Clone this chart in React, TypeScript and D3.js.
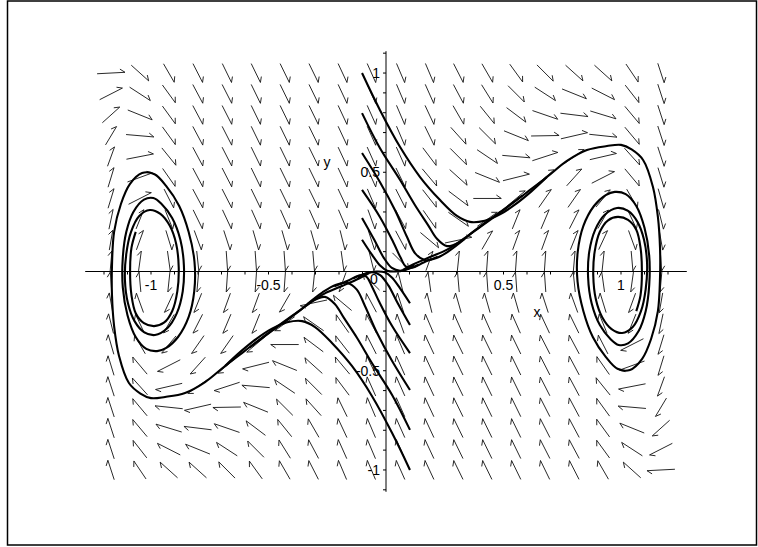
import React from 'react';
import * as d3 from 'd3';

const W = 758;
const H = 547;

// direction field grid (data coords)
const gridX = [-1.17, -1.047, -0.924, -0.801, -0.677, -0.554, -0.431, -0.308, -0.185, -0.062,
  0.062, 0.185, 0.308, 0.431, 0.554, 0.677, 0.801, 0.924, 1.047, 1.17];
const gridY = [1.0, 0.895, 0.789, 0.684, 0.579, 0.474, 0.368, 0.263, 0.158, 0.053,
  -0.053, -0.158, -0.263, -0.368, -0.474, -0.579, -0.684, -0.789, -0.895, -1.0];

// arrow directions in degrees (row = gridY, col = gridX)
const arrowAngles = [
  [3, -42, -60, -63, -64, -64, -64, -64, -65, -66, -67, -67, -63, -60, -54, -45, -42, -42, -56, -72],
  [27, -33, -54, -62, -63, -64, -64, -64, -65, -66, -67, -66, -62, -58, -45, -33, -22, -27, -52, -72],
  [42, -22, -54, -62, -63, -64, -64, -64, -65, -66, -67, -65, -60, -51, -37, -19, -7, -17, -50, -72],
  [59, -5, -54, -62, -63, -64, -64, -64, -65, -66, -67, -64, -48, -45, -22, 1, 13, -6, -50, -72],
  [70, 11, -51, -62, -63, -64, -64, -64, -65, -66, -66, -53, -45, -34, -5, 18, 35, 13, -48, -72],
  [73, 20, -55, -62, -63, -64, -64, -64, -65, -66, -64, -50, -42, -22, 14, 40, 48, 27, -50, -73],
  [73, 27, -63, -62, -63, -64, -64, -64, -65, -67, -63, -52, -37, 0, 40, 55, 55, 50, -60, -74],
  [78, 68, -68, -64, -65, -66, -66, -66, -67, -70, -62, -55, -35, 35, 68, 67, 63, 60, -65, -76],
  [80, 70, -73, -70, -72, -74, -74, -74, -76, -72, -62, -40, 12, 60, 70, 70, 68, 65, -70, -80],
  [85, 82, -82, -84, -86, -86, -86, -85, -82, -76, -45, 70, 84, 86, 86, 86, 85, 84, -85, -86],
  [94, 95, -96, -95, -94, -94, -94, -96, -110, 135, 104, 98, 95, 94, 94, 94, 96, 98, -98, -95],
  [100, 110, -115, -112, -110, -110, -120, -168, 140, 118, 108, 104, 106, 106, 106, 108, 110, 107, -110, -100],
  [104, 115, -120, -117, -113, -112, -145, 145, 125, 118, 110, 113, 114, 114, 114, 115, 116, 112, -112, -102],
  [106, 120, -130, -125, -125, -140, 180, 143, 128, 117, 113, 115, 116, 116, 116, 117, 118, 117, -153, -107],
  [107, 130, -153, -132, -140, -166, 158, 138, 130, 116, 114, 115, 116, 116, 116, 117, 118, 125, -160, -107],
  [108, 132, -167, -145, -162, 175, 146, 135, 127, 114, 114, 115, 116, 116, 116, 117, 118, 129, -169, -110],
  [108, 130, 174, -167, -179, 158, 135, 132, 116, 113, 114, 115, 116, 116, 116, 117, 118, 126, 175, -121],
  [108, 130, 163, 173, 161, 143, 129, 120, 115, 113, 114, 115, 116, 116, 116, 117, 118, 126, 158, -138],
  [108, 128, 153, 158, 147, 135, 122, 118, 114, 113, 114, 115, 116, 116, 116, 117, 118, 126, 147, -153],
  [108, 124, 138, 138, 135, 126, 120, 117, 113, 113, 114, 115, 116, 116, 116, 116, 117, 120, 138, -177],
];

// trajectories entering from the top (left of the y axis)
const trajTop = [
  [[-0.102, 1.0], [-0.026, 0.814], [0.06, 0.627], [0.145, 0.476], [0.23, 0.36], [0.302, 0.28], [0.357, 0.25], [0.42, 0.256], [0.485, 0.288], [0.55, 0.338], [0.62, 0.405], [0.685, 0.476]],
  [[-0.102, 0.798], [-0.026, 0.622], [0.06, 0.461], [0.123, 0.335], [0.179, 0.234], [0.217, 0.165], [0.26, 0.128], [0.315, 0.15], [0.37, 0.2], [0.43, 0.253], [0.5, 0.312], [0.58, 0.383]],
  [[-0.102, 0.597], [-0.026, 0.451], [0.038, 0.31], [0.089, 0.175], [0.125, 0.09], [0.165, 0.058], [0.215, 0.068], [0.27, 0.105], [0.336, 0.165]],
  [[-0.102, 0.411], [-0.026, 0.275], [0.03, 0.15], [0.062, 0.07], [0.085, 0.025], [0.115, 0.02], [0.16, 0.045], [0.22, 0.075]],
  [[-0.102, 0.27], [-0.05, 0.16], [-0.01, 0.07], [0.025, 0.018], [0.06, 0.004], [0.1, 0.015], [0.14, 0.035]],
  [[-0.102, 0.16], [-0.06, 0.085], [-0.025, 0.03], [0.005, 0.004], [0.04, 0.0], [0.08, 0.008], [0.12, 0.03]],
];

// trajectories entering from the bottom (right of the y axis)
const trajBottom = [
  [[0.102, -1.0], [0.026, -0.814], [-0.06, -0.627], [-0.145, -0.476], [-0.23, -0.36], [-0.302, -0.28], [-0.357, -0.25], [-0.42, -0.256], [-0.485, -0.288], [-0.55, -0.338], [-0.62, -0.405], [-0.685, -0.476]],
  [[0.102, -0.798], [0.026, -0.622], [-0.06, -0.461], [-0.123, -0.335], [-0.179, -0.234], [-0.217, -0.165], [-0.26, -0.128], [-0.315, -0.15], [-0.37, -0.2], [-0.43, -0.253], [-0.5, -0.312], [-0.58, -0.383]],
  [[0.102, -0.597], [0.026, -0.451], [-0.038, -0.31], [-0.089, -0.175], [-0.125, -0.09], [-0.165, -0.058], [-0.215, -0.068], [-0.27, -0.105], [-0.336, -0.165]],
  [[0.102, -0.411], [0.026, -0.275], [-0.03, -0.15], [-0.062, -0.07], [-0.085, -0.025], [-0.115, -0.02], [-0.16, -0.045], [-0.22, -0.075]],
  [[0.102, -0.27], [0.05, -0.16], [0.01, -0.07], [-0.025, -0.018], [-0.06, -0.004], [-0.1, -0.015], [-0.14, -0.035]],
  [[0.102, -0.16], [0.06, -0.085], [0.025, -0.03], [-0.005, -0.004], [-0.04, 0.0], [-0.08, -0.008], [-0.12, -0.03]],
];

// the S branch leaving the saddle and winding round the right centre
const spiralRight = [
  [0.072, 0.008], [0.115, 0.035], [0.187, 0.073], [0.26, 0.11], [0.336, 0.169], [0.4, 0.224], [0.472, 0.285],
  [0.54, 0.345], [0.613, 0.411], [0.685, 0.476], [0.77, 0.557], [0.855, 0.612], [0.94, 0.632], [1.0, 0.638],
  [1.045, 0.615], [1.094, 0.562], [1.136, 0.426], [1.157, 0.275], [1.166, 0.12], [1.166, -0.03], [1.157, -0.2],
  [1.128, -0.34], [1.09, -0.44], [1.038, -0.496], [0.985, -0.49], [0.935, -0.43], [0.88, -0.33], [0.84, -0.2],
  [0.815, -0.05], [0.816, 0.1], [0.84, 0.23], [0.885, 0.33], [0.935, 0.385], [0.974, 0.401],
  [1.02, 0.39], [1.065, 0.33], [1.1, 0.22], [1.12, 0.08], [1.12, -0.07], [1.105, -0.2], [1.075, -0.3],
  [1.03, -0.362], [0.99, -0.37], [0.955, -0.34], [0.91, -0.27], [0.875, -0.16], [0.86, -0.03], [0.865, 0.1],
  [0.89, 0.21], [0.93, 0.285], [0.983, 0.32],
  [1.03, 0.305], [1.07, 0.25], [1.098, 0.16], [1.111, 0.04], [1.105, -0.09], [1.085, -0.2], [1.05, -0.28],
  [1.005, -0.31], [0.96, -0.29], [0.92, -0.23], [0.893, -0.14], [0.882, -0.02], [0.888, 0.1], [0.91, 0.2],
  [0.945, 0.258], [0.987, 0.275],
  [1.03, 0.26], [1.065, 0.21], [1.083, 0.12], [1.089, 0.0], [1.083, -0.12], [1.065, -0.2],
];

// the other S branch winding round the left centre
const spiralLeft = [
  [-0.072, -0.008], [-0.115, -0.035], [-0.187, -0.073], [-0.26, -0.11], [-0.336, -0.169], [-0.4, -0.224], [-0.472, -0.285],
  [-0.54, -0.345], [-0.613, -0.411], [-0.685, -0.476], [-0.77, -0.557], [-0.855, -0.612], [-0.94, -0.632], [-1.0, -0.638],
  [-1.045, -0.615], [-1.094, -0.562], [-1.136, -0.426], [-1.157, -0.275], [-1.166, -0.12], [-1.166, 0.03], [-1.157, 0.2],
  [-1.128, 0.34], [-1.09, 0.44], [-1.038, 0.496], [-0.985, 0.49], [-0.935, 0.43], [-0.88, 0.33], [-0.84, 0.2],
  [-0.815, 0.05], [-0.816, -0.1], [-0.84, -0.23], [-0.885, -0.33], [-0.935, -0.385], [-0.974, -0.401],
  [-1.02, -0.39], [-1.065, -0.33], [-1.1, -0.22], [-1.12, -0.08], [-1.12, 0.07], [-1.105, 0.2], [-1.075, 0.3],
  [-1.03, 0.362], [-0.99, 0.37], [-0.955, 0.34], [-0.91, 0.27], [-0.875, 0.16], [-0.86, 0.03], [-0.865, -0.1],
  [-0.89, -0.21], [-0.93, -0.285], [-0.983, -0.32],
  [-1.03, -0.305], [-1.07, -0.25], [-1.098, -0.16], [-1.111, -0.04], [-1.105, 0.09], [-1.085, 0.2], [-1.05, 0.28],
  [-1.005, 0.31], [-0.96, 0.29], [-0.92, 0.23], [-0.893, 0.14], [-0.882, 0.02], [-0.888, -0.1], [-0.91, -0.2],
  [-0.945, -0.258], [-0.987, -0.275],
  [-1.03, -0.26], [-1.065, -0.21], [-1.083, -0.12], [-1.089, 0.0], [-1.083, 0.12], [-1.065, 0.2],
];

const xTickLabels = [
  { v: -1, t: '-1' },
  { v: -0.5, t: '-0.5' },
  { v: 0.5, t: '0.5' },
  { v: 1, t: '1' },
];
const yTickLabels = [
  { v: 1, t: '1' },
  { v: 0.5, t: '0.5' },
  { v: -0.5, t: '-0.5' },
  { v: -1, t: '-1' },
];

export default function App() {
  const x = d3.scaleLinear().domain([-1.28, 1.28]).range([85.2, 686.8]);
  const y = d3.scaleLinear().domain([-1.11, 1.11]).range([491.8, 51.2]);

  const line = d3
    .line<number[]>()
    .x((d) => x(d[0]))
    .y((d) => y(d[1]))
    .curve(d3.curveCatmullRom.alpha(0.5));

  // arrows: shaft length scaled to the grid cell, half arrow head
  const arrows: string[] = [];
  gridY.forEach((gy, j) => {
    gridX.forEach((gx, i) => {
      const a = (arrowAngles[j][i] * Math.PI) / 180;
      const dx = Math.cos(a);
      const dy = -Math.sin(a);
      const len = 1 / Math.sqrt((dx / 28) ** 2 + (dy / 20) ** 2);
      const cx = x(gx);
      const cy = y(gy);
      const tx = cx - (dx * len) / 2;
      const ty = cy - (dy * len) / 2;
      const hx = cx + (dx * len) / 2;
      const hy = cy + (dy * len) / 2;
      const t = (35 * Math.PI) / 180;
      const bx = -dx * Math.cos(t) + dy * Math.sin(t);
      const by = -dx * Math.sin(t) - dy * Math.cos(t);
      arrows.push(`M${tx},${ty}L${hx},${hy}L${hx + bx * 6},${hy + by * 6}`);
    });
  });

  const minor = d3.range(-11, 12).map((k) => k / 10);
  const font = '"Liberation Sans", Arial, sans-serif';

  return (
    <svg width={W} height={H} style={{ position: 'absolute', left: 0, top: 0, background: '#fff' }}>
      <rect x={7.5} y={1} width={749} height={544} fill="#fff" stroke="#000" strokeWidth={1.5} />

      {/* axes */}
      <line x1={x(-1.28)} x2={x(1.28)} y1={y(0)} y2={y(0)} stroke="#000" strokeWidth={1} />
      <line x1={x(0)} x2={x(0)} y1={y(1.11)} y2={y(-1.11)} stroke="#000" strokeWidth={1} />
      {minor.map((v) => (
        <line key={'yt' + v} x1={x(0) - 3} x2={x(0)} y1={y(v)} y2={y(v)} stroke="#000" strokeWidth={1} />
      ))}
      {d3.range(-12, 13).map((k) => (
        <line key={'xt' + k} x1={x(k / 10)} x2={x(k / 10)} y1={y(0)} y2={y(0) + 3} stroke="#000" strokeWidth={1} />
      ))}

      {/* direction field */}
      <g fill="none" stroke="#111" strokeWidth={0.9}>
        {arrows.map((d, k) => (
          <path key={k} d={d} />
        ))}
      </g>

      {/* trajectories */}
      <g fill="none" stroke="#000" strokeWidth={2.1} strokeLinejoin="round">
        {trajTop.map((t, k) => (
          <path key={'t' + k} d={line(t) || ''} />
        ))}
        {trajBottom.map((t, k) => (
          <path key={'b' + k} d={line(t) || ''} />
        ))}
        <path d={line(spiralRight) || ''} />
        <path d={line(spiralLeft) || ''} />
      </g>

      {/* labels */}
      <g fontFamily={font} fontSize={14} fill="#000">
        {xTickLabels.map((d) => (
          <text key={d.t} x={x(d.v)} y={y(0) + 18} textAnchor="middle">
            {d.t}
          </text>
        ))}
        <text x={x(0) - 12} y={y(0) + 12} textAnchor="middle">0</text>
        {yTickLabels.map((d) => (
          <text key={d.t} x={x(0) - 6} y={y(d.v) + 5} textAnchor="end">
            {d.t}
          </text>
        ))}
        <text x={537} y={317} textAnchor="middle">x</text>
        <text x={327} y={167} textAnchor="middle">y</text>
      </g>
    </svg>
  );
}
